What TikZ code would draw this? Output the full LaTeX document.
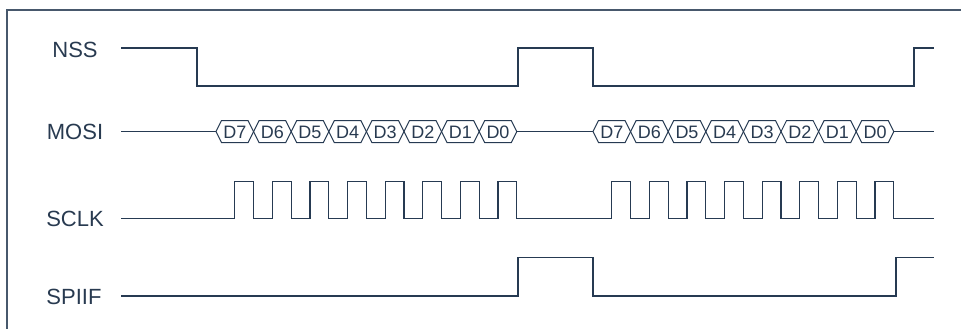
\documentclass[tikz,border=0pt]{standalone}
\usepackage{fontspec}
\setmainfont{Liberation Sans}
\definecolor{wave}{RGB}{38,58,82}
\definecolor{txt}{RGB}{40,58,80}
\tikzset{
  wv/.style={draw=wave, line width=1.2pt, line join=miter},
  frameline/.style={draw=wave!85, line width=1.2pt},
  lbl/.style={text=txt, font=\fontsize{22}{24}\selectfont, inner sep=0pt, anchor=center},
  hexlbl/.style={text=txt, font=\fontsize{18}{20}\selectfont, inner sep=0pt},
}
\begin{document}
\begin{tikzpicture}[x=1pt,y=-1pt]
\useasboundingbox (0,0) rectangle (961,329);
% frame (top and left edges)
\draw[frameline] (7,329) -- (7,10) -- (961,10);
% labels
\node[lbl] (nss) at (75,50) {NSS};
\node[lbl] (mosi) at (75,132) {MOSI};
\node[lbl] (sclk) at (75,219) {SCLK};
\node[lbl] (spiif) at (74,297) {SPIIF};
% NSS
\draw[wv] (121,48) -- (197,48) -- (197,86) -- (518,86) -- (518,48) -- (593,48) -- (593,86) -- (914,86) -- (914,48) -- (934,48);
% MOSI
\def\W{37.6}
\def\A{5.5}
\def\H{11}
\def\Y{131.6}
\draw[wv] (121,\Y) -- (216,\Y);
\draw[wv] ({216+8*\W},\Y) -- (593,\Y);
\draw[wv] ({593+8*\W},\Y) -- (934,\Y);
\foreach \s/\g in {216/a,593/b}{
  \foreach \k/\d in {0/7,1/6,2/5,3/4,4/3,5/2,6/1,7/0}{
    \draw[wv,line width=1pt] ({\s+\k*\W},\Y) -- ({\s+\k*\W+\A},\Y-\H) -- ({\s+(\k+1)*\W-\A},\Y-\H) -- ({\s+(\k+1)*\W},\Y) -- ({\s+(\k+1)*\W-\A},\Y+\H) -- ({\s+\k*\W+\A},\Y+\H) -- cycle;
    \node[hexlbl] (h\g\k) at ({\s+(\k+0.5)*\W},\Y+0.5) {D\d};
  }
}
% SCLK
\def\L{218.5}
\def\U{181.5}
\draw[wv] (121,\L)
  \foreach \k in {0,...,7}{ -- ({216+(\k+0.5)*\W},\L) -- ({216+(\k+0.5)*\W},\U) -- ({216+(\k+1)*\W},\U) -- ({216+(\k+1)*\W},\L) }
  \foreach \k in {0,...,7}{ -- ({593+(\k+0.5)*\W},\L) -- ({593+(\k+0.5)*\W},\U) -- ({593+(\k+1)*\W},\U) -- ({593+(\k+1)*\W},\L) }
  -- (934,\L);
% SPIIF
\draw[wv] (121,296) -- (518,296) -- (518,257.5) -- (593,257.5) -- (593,296) -- (896,296) -- (896,257.5) -- (934,257.5);
\end{tikzpicture}
\end{document}
